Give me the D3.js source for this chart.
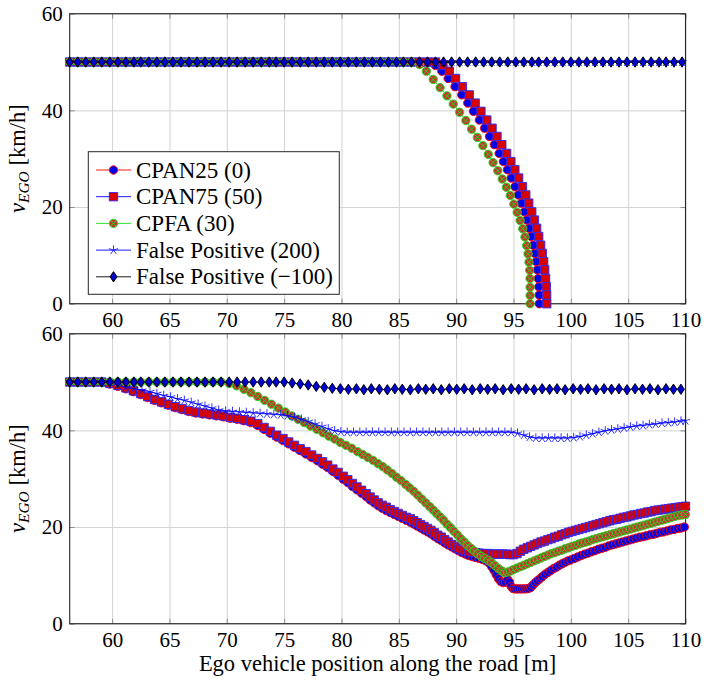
<!DOCTYPE html>
<html>
<head>
<meta charset="utf-8">
<script src="https://cdn.jsdelivr.net/npm/d3@7"></script>
<style>
  body { margin: 0; background: #fff; }
  svg text { font-family: "Liberation Serif", "DejaVu Serif", serif; fill: #000; }
</style>
</head>
<body>
<div id="chart"></div>
<script>
// Ticks
const xTicks = [60, 65, 70, 75, 80, 85, 90, 95, 100, 105, 110];
const yTicks = [0, 20, 40, 60];

// Legend labels (drawing order)
const seriesNames = ["CPAN25 (0)", "CPAN75 (50)", "CPFA (30)", "False Positive (200)", "False Positive (\u2212100)"];

// ---- Top panel: [position m, speed km/h]
const topCpan25 = [[56.3,50],[57,50],[57.7,50],[58.4,50],[59.1,50],[59.8,50],[60.5,50],[61.2,50],[61.9,50],[62.5,50],[63.2,50],[63.9,50],[64.6,50],[65.3,50],[66,50],[66.7,50],[67.4,50],[68.1,50],[68.8,50],[69.5,50],[70.2,50],[70.9,50],[71.6,50],[72.3,50],[73,50],[73.7,50],[74.3,50],[75,50],[75.7,50],[76.4,50],[77.1,50],[77.8,50],[78.5,50],[79.2,50],[79.9,50],[80.6,50],[81.3,50],[82,50],[82.7,50],[83.4,50],[84.1,50],[84.8,50],[85.4,50],[86.1,50],[86.8,50],[87.5,50],
  [88.2,49.3],[88.75,48.1],[89.3,46.6],[89.9,44.9],[90.49,43.2],[91.01,41.5],[91.51,39.8],[92.02,38],[92.48,36.3],[92.91,34.6],[93.33,32.9],[93.75,31.1],[94.12,29.4],[94.47,27.7],[94.8,26],[95.13,24.2],[95.42,22.5],[95.68,20.8],[95.94,19],[96.17,17.3],[96.37,15.6],[96.55,13.9],[96.72,12.1],[96.86,10.4],[96.98,8.7],[97.07,7],[97.15,5.2],[97.21,3.5],[97.24,1.8],[97.25,0]];

const topCpan75 = [[56.3,50],[57,50],[57.7,50],[58.4,50],[59.1,50],[59.8,50],[60.5,50],[61.2,50],[61.9,50],[62.5,50],[63.2,50],[63.9,50],[64.6,50],[65.3,50],[66,50],[66.7,50],[67.4,50],[68.1,50],[68.8,50],[69.5,50],[70.2,50],[70.9,50],[71.6,50],[72.3,50],[73,50],[73.7,50],[74.3,50],[75,50],[75.7,50],[76.4,50],[77.1,50],[77.8,50],[78.5,50],[79.2,50],[79.9,50],[80.6,50],[81.3,50],[82,50],[82.7,50],[83.4,50],[84.1,50],[84.8,50],[85.4,50],[86.1,50],[86.8,50],[87.5,50],[88.2,50],
  [88.85,49.3],[89.4,48.1],[89.95,46.6],[90.55,44.9],[91.14,43.2],[91.66,41.5],[92.16,39.8],[92.67,38],[93.13,36.3],[93.56,34.6],[93.98,32.9],[94.4,31.1],[94.77,29.4],[95.12,27.7],[95.45,26],[95.78,24.2],[96.07,22.5],[96.33,20.8],[96.59,19],[96.82,17.3],[97.02,15.6],[97.2,13.9],[97.37,12.1],[97.51,10.4],[97.63,8.7],[97.72,7],[97.8,5.2],[97.86,3.5],[97.89,1.8],[97.9,0]];

const topCpfa = [[56.3,50],[57,50],[57.7,50],[58.4,50],[59.1,50],[59.8,50],[60.5,50],[61.2,50],[61.9,50],[62.5,50],[63.2,50],[63.9,50],[64.6,50],[65.3,50],[66,50],[66.7,50],[67.4,50],[68.1,50],[68.8,50],[69.5,50],[70.2,50],[70.9,50],[71.6,50],[72.3,50],[73,50],[73.7,50],[74.3,50],[75,50],[75.7,50],[76.4,50],[77.1,50],[77.8,50],[78.5,50],[79.2,50],[79.9,50],[80.6,50],[81.3,50],[82,50],[82.7,50],[83.4,50],[84.1,50],[84.8,50],[85.4,50],[86.1,50],
  [86.8,49.5],[87.4,48.1],[88,46.4],[88.6,44.7],[89.2,43],[89.75,41.3],[90.3,39.6],[90.85,37.9],[91.35,36.1],[91.85,34.4],[92.33,32.7],[92.8,30.9],[93.22,29.2],[93.63,27.5],[94.02,25.8],[94.38,24.1],[94.72,22.4],[95.03,20.6],[95.32,18.9],[95.58,17.2],[95.81,15.5],[96,13.8],[96.15,12],[96.27,10.3],[96.35,8.6],[96.41,6.9],[96.44,5.2],[96.45,3.4],[96.45,1.7],[96.45,0]];

const topFp200 = [[56.3,50],[57,50],[57.7,50],[58.4,50],[59.1,50],[59.8,50],[60.5,50],[61.2,50],[61.9,50],[62.5,50],[63.2,50],[63.9,50],[64.6,50],[65.3,50],[66,50],[66.7,50],[67.4,50],[68.1,50],[68.8,50],[69.5,50],[70.2,50],[70.9,50],[71.6,50],[72.3,50],[73,50],[73.7,50],[74.3,50],[75,50],[75.7,50],[76.4,50],[77.1,50],[77.8,50],[78.5,50],[79.2,50],[79.9,50],[80.6,50],[81.3,50],[82,50],[82.7,50],[83.4,50],[84.1,50],[84.8,50],[85.4,50],[86.1,50],[86.8,50],[87.5,50],[88.2,50],[88.9,50],[89.6,50],[90.3,50],[91,50],[91.7,50],[92.4,50],[93.1,50],[93.8,50],[94.5,50],[95.2,50],[95.9,50],[96.6,50],[97.2,50],[97.9,50],[98.6,50],[99.3,50],[100,50],[100.7,50],[101.4,50],[102.1,50],[102.8,50],[103.5,50],[104.2,50],[104.9,50],[105.6,50],[106.3,50],[107,50],[107.7,50],[108.3,50],[109,50],[109.7,50]];

const topFpNeg100 = [[56.3,50],[57,50],[57.7,50],[58.4,50],[59.1,50],[59.8,50],[60.5,50],[61.2,50],[61.9,50],[62.5,50],[63.2,50],[63.9,50],[64.6,50],[65.3,50],[66,50],[66.7,50],[67.4,50],[68.1,50],[68.8,50],[69.5,50],[70.2,50],[70.9,50],[71.6,50],[72.3,50],[73,50],[73.7,50],[74.3,50],[75,50],[75.7,50],[76.4,50],[77.1,50],[77.8,50],[78.5,50],[79.2,50],[79.9,50],[80.6,50],[81.3,50],[82,50],[82.7,50],[83.4,50],[84.1,50],[84.8,50],[85.4,50],[86.1,50],[86.8,50],[87.5,50],[88.2,50],[88.9,50],[89.6,50],[90.3,50],[91,50],[91.7,50],[92.4,50],[93.1,50],[93.8,50],[94.5,50],[95.2,50],[95.9,50],[96.6,50],[97.2,50],[97.9,50],[98.6,50],[99.3,50],[100,50],[100.7,50],[101.4,50],[102.1,50],[102.8,50],[103.5,50],[104.2,50],[104.9,50],[105.6,50],[106.3,50],[107,50],[107.7,50],[108.3,50],[109,50],[109.7,50]];

// ---- Bottom panel
const botCpan25 = [[56.3,50],[57,50],[57.7,50],[58.4,50],[59.1,50],
  [59.8,49.6],[60.5,49.1],[61.2,48.6],[61.85,48],[62.5,47.4],[63.1,46.8],[63.7,46.2],[64.3,45.7],[64.9,45.2],[65.5,44.7],[66.1,44.3],[66.7,43.9],[67.3,43.6],[67.9,43.4],[68.5,43.2],[69.1,43],[69.7,42.8],[70.3,42.5],[70.9,42.3],[71.5,42],[72.1,41.6],[72.7,41],[73.25,40.2],[73.8,39.4],[74.35,38.6],[74.9,37.9],[75.4,37.2],[75.9,36.5],[76.4,35.8],[76.9,35.1],[77.4,34.4],[77.9,33.7],[78.35,33],[78.8,32.3],[79.25,31.5],[79.7,30.7],[80.15,29.9],[80.55,29.2],[80.95,28.4],[81.35,27.7],[81.75,27],[82.15,26.3],[82.5,25.6],[82.85,25],[83.2,24.4],[83.55,23.9],[83.9,23.4],[84.25,23],[84.6,22.6],[84.95,22.2],[85.3,21.8],[85.65,21.4],[86,21],[86.3,20.6],[86.6,20.2],[86.9,19.8],[87.2,19.4],[87.5,19],[87.8,18.6],[88.1,18.1],[88.4,17.6],[88.7,17.2],[89,16.7],[89.3,16.3],[89.6,15.9],[89.9,15.5],[90.2,15.1],[90.5,14.7],[90.8,14.4],[91.1,14.1],[91.4,13.9],[91.7,13.7],[92,13.5],[92.3,13.3],[92.6,13],[92.9,12.5],[93.1,11.8],[93.3,11],[93.5,10.1],[93.7,9.3],[93.9,8.7],[94.1,8.5],[94.3,8.6],[94.5,9.1],[94.65,8.6],[94.8,7.7],[94.95,7.3],[95.1,7.2],[95.3,7.2],[95.5,7.2],[95.7,7.2],[95.9,7.2],[96.1,7.2],[96.3,7.3],[96.5,7.5],[96.7,8],[96.9,8.5],[97.1,8.9],[97.3,9.3],[97.5,9.7],[97.75,10.2],[98,10.6],[98.25,11],[98.5,11.4],[98.75,11.7],[99,12.1],[99.25,12.4],[99.5,12.7],[99.75,13],[100,13.2],[100.3,13.5],[100.6,13.8],[100.9,14.1],[101.2,14.4],[101.5,14.6],[101.8,14.9],[102.1,15.1],[102.4,15.4],[102.7,15.6],[103,15.8],[103.3,16.1],[103.6,16.3],[103.9,16.5],[104.2,16.7],[104.5,16.9],[104.8,17.1],[105.1,17.3],[105.4,17.5],[105.7,17.7],[106,17.9],[106.3,18],[106.6,18.2],[106.9,18.4],[107.2,18.5],[107.5,18.7],[107.8,18.9],[108.1,19],[108.4,19.2],[108.7,19.4],[109,19.5],[109.3,19.7],[109.6,19.8],[109.9,20]];

const botCpan75 = [[56.3,50],[57,50],[57.7,50],[58.4,50],[59.1,50],
  [59.8,49.7],[60.5,49.3],[61.2,48.8],[61.85,48.2],[62.5,47.6],[63.1,47],[63.7,46.4],[64.3,45.9],[64.9,45.4],[65.5,44.9],[66.1,44.5],[66.7,44.1],[67.3,43.8],[67.9,43.6],[68.5,43.4],[69.1,43.2],[69.7,43],[70.3,42.7],[70.9,42.5],[71.5,42.2],[72.1,41.9],[72.7,41.4],[73.25,40.6],[73.8,39.8],[74.35,39],[74.9,38.3],[75.4,37.6],[75.9,36.9],[76.4,36.2],[76.9,35.6],[77.4,34.9],[77.9,34.2],[78.35,33.5],[78.8,32.8],[79.25,32],[79.7,31.3],[80.15,30.5],[80.55,29.8],[80.95,29],[81.35,28.3],[81.75,27.6],[82.15,26.9],[82.5,26.2],[82.85,25.6],[83.2,25],[83.55,24.5],[83.9,24.1],[84.25,23.6],[84.6,23.2],[84.95,22.8],[85.3,22.4],[85.65,22],[86,21.7],[86.3,21.3],[86.6,20.9],[86.9,20.5],[87.2,20.1],[87.5,19.7],[87.8,19.3],[88.1,18.8],[88.4,18.3],[88.7,17.9],[89,17.4],[89.3,16.9],[89.6,16.4],[89.9,16],[90.2,15.6],[90.5,15.3],[90.8,15.1],[91.1,14.9],[91.4,14.8],[91.7,14.7],[92,14.6],[92.3,14.5],[92.6,14.5],[92.9,14.5],[93.2,14.4],[93.5,14.4],[93.8,14.4],[94.1,14.4],[94.4,14.4],[94.7,14.3],[95,14.3],[95.3,14.5],[95.6,15],[95.9,15.4],[96.2,15.7],[96.5,16],[96.8,16.3],[97.1,16.6],[97.4,16.9],[97.7,17.1],[98,17.4],[98.3,17.6],[98.6,17.9],[98.9,18.1],[99.2,18.4],[99.5,18.6],[99.8,18.9],[100.1,19.1],[100.4,19.3],[100.7,19.5],[101,19.7],[101.3,19.9],[101.6,20.1],[101.9,20.3],[102.2,20.5],[102.5,20.7],[102.8,20.9],[103.1,21.1],[103.4,21.3],[103.7,21.5],[104,21.6],[104.3,21.8],[104.6,22],[104.9,22.1],[105.2,22.3],[105.5,22.5],[105.8,22.6],[106.1,22.8],[106.4,22.9],[106.7,23.1],[107,23.2],[107.3,23.4],[107.6,23.5],[107.9,23.6],[108.2,23.7],[108.5,23.8],[108.8,23.9],[109.1,24],[109.4,24.1],[109.7,24.2],[110,24.3]];

const botCpfa = [[56.3,50],[57,50],[57.7,50],[58.4,50],[59.1,50],[59.8,50],[60.5,50],[61.2,50],[61.9,50],[62.5,50],[63.2,50],[63.9,50],[64.6,50],[65.3,50],[66,50],[66.7,50],[67.4,50],[68.1,50],[68.8,50],[69.5,50],
  [70.2,49.7],[70.85,49.2],[71.5,48.5],[72.1,47.8],[72.7,47],[73.3,46.2],[73.9,45.4],[74.5,44.6],[75.1,43.8],[75.65,43],[76.2,42.3],[76.75,41.6],[77.3,40.9],[77.85,40.2],[78.4,39.5],[78.9,38.8],[79.4,38.2],[79.9,37.5],[80.4,36.9],[80.9,36.3],[81.4,35.6],[81.85,35],[82.3,34.4],[82.75,33.8],[83.2,33.1],[83.6,32.5],[84,31.8],[84.4,31.1],[84.8,30.3],[85.2,29.6],[85.6,28.8],[85.95,28.1],[86.3,27.4],[86.65,26.6],[87,25.8],[87.35,25],[87.7,24.2],[88,23.5],[88.3,22.8],[88.6,22.1],[88.9,21.4],[89.2,20.6],[89.5,19.9],[89.8,19.1],[90.1,18.4],[90.4,17.6],[90.7,16.9],[91,16.2],[91.3,15.6],[91.6,15],[91.9,14.4],[92.2,13.9],[92.5,13.5],[92.8,13.1],[93.1,12.6],[93.4,12],[93.7,11.4],[94,10.9],[94.25,10.6],[94.5,10.7],[94.75,10.9],[95,11.2],[95.3,11.5],[95.6,11.8],[95.9,12.1],[96.2,12.4],[96.5,12.7],[96.8,13],[97.1,13.3],[97.4,13.6],[97.7,13.9],[98,14.2],[98.3,14.5],[98.6,14.7],[98.9,15],[99.2,15.2],[99.5,15.5],[99.8,15.7],[100.1,16],[100.4,16.2],[100.7,16.5],[101,16.7],[101.3,16.9],[101.6,17.1],[101.9,17.4],[102.2,17.6],[102.5,17.8],[102.8,18],[103.1,18.2],[103.4,18.4],[103.7,18.6],[104,18.8],[104.3,19],[104.6,19.2],[104.9,19.4],[105.2,19.6],[105.5,19.8],[105.8,20],[106.1,20.2],[106.4,20.4],[106.7,20.6],[107,20.8],[107.3,21],[107.6,21.2],[107.9,21.4],[108.2,21.6],[108.5,21.8],[108.8,22],[109.1,22.2],[109.4,22.4],[109.7,22.5],[110,22.6]];

const botFp200 = [[56.3,50],[57,50],[57.7,50],[58.4,50],[59.1,50],[59.8,50],
  [60.5,49.3],[61.2,48.9],[61.9,48.6],[62.6,48.3],[63.3,48],[63.9,47.6],[64.5,47.2],[65.1,46.9],[65.7,46.5],[66.3,46.2],[66.9,45.8],[67.5,45.4],[68.1,45],[68.7,44.6],[69.3,44.2],[69.9,44],[70.5,43.9],[71.1,43.8],[71.7,43.7],[72.3,43.6],[72.9,43.5],[73.5,43.4],[74.1,43.3],[74.7,43.2],[75.3,43],[75.9,42.7],[76.5,42.3],[77.1,41.8],[77.7,41.3],[78.3,40.8],[78.85,40.3],[79.4,39.9],[79.95,39.7],[80.5,39.6],[81.05,39.6],[81.6,39.6],[82.15,39.6],[82.7,39.6],[83.25,39.6],[83.8,39.6],[84.35,39.6],[84.9,39.6],[85.45,39.6],[86,39.6],[86.55,39.6],[87.1,39.6],[87.65,39.6],[88.2,39.6],[88.75,39.6],[89.3,39.6],[89.85,39.6],[90.4,39.6],[90.95,39.6],[91.5,39.6],[92.05,39.6],[92.6,39.6],[93.15,39.6],[93.7,39.6],[94.25,39.6],[94.8,39.6],[95.35,39.4],[95.9,39],[96.4,38.6],[96.95,38.4],[97.5,38.4],[98.05,38.4],[98.6,38.4],[99.15,38.4],[99.7,38.4],[100.25,38.5],[100.8,38.7],[101.35,39],[101.9,39.3],[102.45,39.6],[103,39.9],[103.55,40.1],[104.1,40.3],[104.65,40.5],[105.2,40.7],[105.75,40.9],[106.3,41],[106.85,41.2],[107.4,41.3],[107.95,41.5],[108.5,41.6],[109.05,41.7],[109.6,41.9],[110,42]];

const botFpNeg100 = [[56.3,50],[57,50],[57.7,50],[58.4,50],[59.1,50],[59.8,50],[60.5,50],[61.2,50],[61.9,50],[62.5,50],[63.2,50],[63.9,50],[64.6,50],[65.3,50],[66,50],[66.7,50],[67.4,50],[68.1,50],[68.8,50],[69.5,50],[70.2,50],[70.9,50],[71.6,50],[72.3,50],[73,50],[73.7,50],[74.3,50],[75,50],
  [75.7,49.8],[76.4,49.6],[77.1,49.4],[77.8,49.1],[78.5,48.9],[79.2,48.7],[79.9,48.6],[80.6,48.5],[81.3,48.6],[81.95,48.4],[82.6,48.6],[83.3,48.5],[84,48.4],[84.65,48.6],[85.3,48.5],[86,48.4],[86.7,48.6],[87.35,48.5],[88,48.6],[88.7,48.4],[89.4,48.6],[90.05,48.5],[90.7,48.6],[91.4,48.4],[92.1,48.6],[92.75,48.5],[93.4,48.6],[94.1,48.4],[94.8,48.6],[95.45,48.5],[96.1,48.6],[96.8,48.4],[97.5,48.6],[98.15,48.5],[98.8,48.6],[99.5,48.4],[100.2,48.6],[100.85,48.5],[101.5,48.6],[102.2,48.4],[102.9,48.6],[103.55,48.5],[104.2,48.6],[104.9,48.4],[105.6,48.6],[106.25,48.5],[106.9,48.6],[107.6,48.4],[108.3,48.6],[108.95,48.5],[109.6,48.5]];

// Layout
const W = 708, H = 687;
const plotLeft = 69.7, plotRight = 685.5, panelH = 290;
const topPanelY = 13.7, botPanelY = 333.7;
const serifFamily = "Liberation Serif";

// Series styles
const styles = [
  { id: "mk-circle", line: "#ff0000", mark: "circle", fill: "#0000e6", stroke: "#ff0000" },
  { id: "mk-square", line: "#0000ff", mark: "square", fill: "#d60000", stroke: "#2a2aff" },
  { id: "mk-otimes", line: "#1fdc1f", mark: "otimes", fill: "#c0392b", stroke: "#1fdc1f" },
  { id: "mk-star", line: "#0000ff", mark: "star", fill: "none", stroke: "#0000ff" },
  { id: "mk-diamond", line: "#000000", mark: "diamond", fill: "#0000cc", stroke: "#000000" },
];

function markPath(type) {
  const r = 4.2;
  if (type === "circle")
    return `M${r},0A${r},${r} 0 1,1 ${-r},0A${r},${r} 0 1,1 ${r},0Z`;
  if (type === "square") return "M-4.2,-4.2h8.4v8.4h-8.4Z";
  if (type === "otimes") {
    const a = 2.7;
    return `M${r},0A${r},${r} 0 1,1 ${-r},0A${r},${r} 0 1,1 ${r},0Z` +
      `M${-a},${-a}L${a},${a}M${-a},${a}L${a},${-a}`;
  }
  if (type === "diamond") return "M0,-5.2L3.5,0L0,5.2L-3.5,0Z";
  if (type === "star") {
    let p = "";
    for (let i = 0; i < 5; i++) {
      const ang = (-90 + i * 72) * Math.PI / 180;
      p += `M0,0L${(4.8 * Math.cos(ang)).toFixed(2)},${(4.8 * Math.sin(ang)).toFixed(2)}`;
    }
    return p;
  }
  return "";
}

// Set fonts as presentation attributes as well as inline style
function font(sel, size, italic) {
  sel.attr("font-family", serifFamily).attr("font-size", size)
    .style("font-family", serifFamily).style("font-size", size + "px");
  if (italic) sel.attr("font-style", "italic").style("font-style", "italic");
  return sel;
}

const svg = d3.select("#chart").append("svg")
  .attr("width", W).attr("height", H)
  .attr("font-family", serifFamily);

// Marker symbols, placed on every vertex of a series path
const defs = svg.append("defs");
styles.forEach(st => {
  defs.append("marker")
    .attr("id", st.id)
    .attr("markerUnits", "userSpaceOnUse")
    .attr("viewBox", "-7 -7 14 14")
    .attr("markerWidth", 14).attr("markerHeight", 14)
    .attr("refX", 0).attr("refY", 0)
    .attr("orient", "0")
    .style("overflow", "visible")
    .append("path")
    .attr("d", markPath(st.mark))
    .attr("fill", st.fill)
    .attr("stroke", st.stroke)
    .attr("stroke-width", st.mark === "star" ? 0.8 : 0.9);
});

const x = d3.scaleLinear().domain([56.3, 110]).range([plotLeft, plotRight]);

function drawPanel(top, seriesList) {
  const y = d3.scaleLinear().domain([0, 60]).range([top + panelH, top]);
  const g = svg.append("g");
  const w = plotRight - plotLeft;

  // Grid
  g.append("g")
    .attr("transform", `translate(0,${top + panelH})`)
    .call(d3.axisBottom(x).tickValues(xTicks).tickSize(-panelH).tickFormat(""))
    .call(s => s.select(".domain").remove())
    .call(s => s.selectAll("line").attr("stroke", "#d2d2d2").attr("stroke-width", 1));
  g.append("g")
    .attr("transform", `translate(${plotLeft},0)`)
    .call(d3.axisLeft(y).tickValues(yTicks).tickSize(-w).tickFormat(""))
    .call(s => s.select(".domain").remove())
    .call(s => s.selectAll("line").attr("stroke", "#d2d2d2").attr("stroke-width", 1));

  // Inner tick marks on all four sides
  const tickStyle = s => s.selectAll("line").attr("stroke", "#8c8c8c");
  g.append("g").attr("transform", `translate(0,${top})`)
    .call(d3.axisTop(x).tickValues(xTicks).tickSize(-5).tickFormat(""))
    .call(s => s.select(".domain").remove()).call(tickStyle);
  g.append("g").attr("transform", `translate(${plotRight},0)`)
    .call(d3.axisRight(y).tickValues(yTicks).tickSize(-5).tickFormat(""))
    .call(s => s.select(".domain").remove()).call(tickStyle);

  const xAxis = g.append("g").attr("transform", `translate(0,${top + panelH})`)
    .call(d3.axisBottom(x).tickValues(xTicks).tickSize(-5).tickPadding(8))
    .call(s => s.select(".domain").remove()).call(tickStyle);
  xAxis.call(s => font(s, 21)).selectAll("text").call(s => font(s, 21));

  const yAxis = g.append("g").attr("transform", `translate(${plotLeft},0)`)
    .call(d3.axisLeft(y).tickValues(yTicks).tickSize(-5).tickPadding(7))
    .call(s => s.select(".domain").remove()).call(tickStyle);
  yAxis.call(s => font(s, 21)).selectAll("text").call(s => font(s, 21));

  // Frame
  g.append("rect")
    .attr("x", plotLeft).attr("y", top)
    .attr("width", w).attr("height", panelH)
    .attr("fill", "none").attr("stroke", "#262626").attr("stroke-width", 1.1);

  // Series: line with a marker on every data point
  const line = d3.line().x(d => x(d[0])).y(d => y(d[1]));
  seriesList.forEach((data, i) => {
    const st = styles[i];
    g.append("path").datum(data)
      .attr("d", line).attr("fill", "none")
      .attr("stroke", st.line).attr("stroke-width", 0.9)
      .attr("marker-start", `url(#${st.id})`)
      .attr("marker-mid", `url(#${st.id})`)
      .attr("marker-end", `url(#${st.id})`);
  });

  // Y axis label
  const lbl = svg.append("text")
    .attr("transform", `translate(25,${top + panelH / 2}) rotate(-90)`)
    .attr("text-anchor", "middle")
    .call(s => font(s, 22.5));
  lbl.append("tspan").call(s => font(s, 22.5, true)).text("v");
  lbl.append("tspan").call(s => font(s, 15.5, true)).attr("dy", 4).text("EGO");
  lbl.append("tspan").call(s => font(s, 22.5)).attr("dy", -4).text(" [km/h]");

  return y;
}

drawPanel(topPanelY, [topCpan25, topCpan75, topCpfa, topFp200, topFpNeg100]);
drawPanel(botPanelY, [botCpan25, botCpan75, botCpfa, botFp200, botFpNeg100]);

// X axis label
svg.append("text")
  .attr("x", (plotLeft + plotRight) / 2).attr("y", 671)
  .attr("text-anchor", "middle")
  .call(s => font(s, 22.5))
  .text("Ego vehicle position along the road [m]");

// Legend
const legend = svg.append("g");
legend.append("rect")
  .attr("x", 88.3).attr("y", 151.7)
  .attr("width", 251).attr("height", 142.6)
  .attr("fill", "#fff").attr("stroke", "#262626").attr("stroke-width", 1);

seriesNames.forEach((name, i) => {
  const st = styles[i];
  const cy = 170 + i * 26.7;
  legend.append("line")
    .attr("x1", 96).attr("x2", 131).attr("y1", cy).attr("y2", cy)
    .attr("stroke", st.line).attr("stroke-width", 0.9);
  legend.append("path")
    .attr("transform", `translate(113.5,${cy})`)
    .attr("d", markPath(st.mark))
    .attr("fill", st.fill).attr("stroke", st.stroke)
    .attr("stroke-width", st.mark === "star" ? 0.8 : 0.9);
  legend.append("text")
    .attr("x", 136).attr("y", cy + 7.5)
    .call(s => font(s, 23))
    .text(name);
});
</script>
</body>
</html>
